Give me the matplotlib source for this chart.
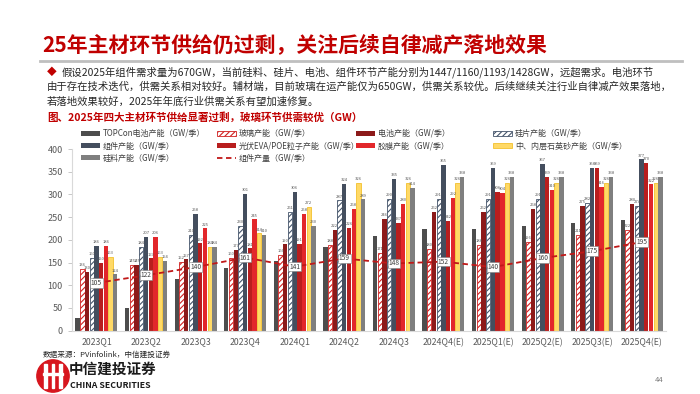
import matplotlib
matplotlib.use("Agg")
import matplotlib.pyplot as plt
import numpy as np
from matplotlib.patches import Circle, Rectangle
from matplotlib.lines import Line2D

plt.rcParams['font.family'] = ['Noto Sans CJK SC', 'DejaVu Sans']
plt.rcParams['hatch.linewidth'] = 0.8

quarters = ["2023Q1", "2023Q2", "2023Q3", "2023Q4", "2024Q1", "2024Q2", "2024Q3",
            "2024Q4(E)", "2025Q1(E)", "2025Q2(E)", "2025Q3(E)", "2025Q4(E)"]

topcon = [27, 50, 113, 139, 154, 184, 208, 223, 223, 231, 238, 243]
glass = [136, 145, 152, 160, 166, 188, 171, 180, 188, 196, 211, 222]
cell = [130, 145, 157, 177, 190, 222, 246, 262, 262, 268, 275, 280]
wafer = [160, 184, 210, 230, 261, 287, 290, 291, 291, 291, 282, 274]
module = [186, 207, 258, 301, 306, 324, 335, 365, 359, 367, 358, 377]
eva = [150, 159, 192, 181, 191, 226, 237, 242, 306, 339, 359, 370]
film = [186, 206, 225, 245, 258, 268, 280, 292, 304, 310, 316, 322]
quartz = [163, 163, 184, 214, 272, 326, 326, 326, 326, 326, 326, 326]
poly = [124, 154, 184, 210, 230, 289, 314, 338, 338, 338, 338, 338]
module_output = [105, 122, 140, 161, 141, 159, 148, 152, 140, 160, 175, 195]

fig = plt.figure(figsize=(7.0, 3.94), dpi=100)

# Header
fig.text(0.06, 1 - 45/394, "25年主材环节供给仍过剩，关注后续自律减产落地效果",
         fontsize=15, fontweight='bold', color='#c00000', va='center', ha='left')
fig.add_artist(Line2D([40/700, 682/700], [1 - 61/394, 1 - 61/394], color='#bfbfbf', lw=2))
fig.text(47/700, 1 - 72/394, "◆", fontsize=7, color='#c00000', va='center', ha='left')
lines = ["假设2025年组件需求量为670GW，当前硅料、硅片、电池、组件环节产能分别为1447/1160/1193/1428GW，远超需求。电池环节",
         "由于存在技术迭代，供需关系相对较好。辅材端，目前玻璃在运产能仅为650GW，供需关系较优。后续继续关注行业自律减产效果落地，",
         "若落地效果较好，2025年年底行业供需关系有望加速修复。"]
for i, ln in enumerate(lines):
    fig.text(62/700 if i == 0 else 47/700, 1 - (72 + i*14.8)/394, ln, fontsize=7.45,
             color='#262626', va='center', ha='left')
fig.text(47/700, 1 - 117/394, "图、2025年四大主材环节供给显著过剩，玻璃环节供需较优（GW）",
         fontsize=7.6, fontweight='bold', color='#c00000', va='center', ha='left')

ax = fig.add_axes([71.7/700, 1 - 330.7/394, (666.4 - 71.7)/700, 181.7/394])

series = [
    ("TOPCon电池产能（GW/季）", topcon, dict(color='#4d4d4d'), False),
    ("玻璃产能（GW/季）", glass, dict(facecolor='white', edgecolor='#d02020', hatch='//////', linewidth=0.6), True),
    ("电池产能（GW/季）", cell, dict(color='#8c1a1a'), True),
    ("硅片产能（GW/季）", wafer, dict(facecolor='white', edgecolor='#44546a', hatch='//////', linewidth=0.6), True),
    ("组件产能（GW/季）", module, dict(color='#444e5e'), True),
    ("光伏EVA/POE粒子产能（GW/季）", eva, dict(color='#b81e1e'), True),
    ("胶膜产能（GW/季）", film, dict(color='#e2272b'), True),
    ("中、内层石英砂产能（GW/季）", quartz, dict(facecolor='#ffd966', edgecolor='#f2c12e', linewidth=0.6), True),
    ("硅料产能（GW/季）", poly, dict(color='#7f7f7f'), True),
]

x = np.arange(len(quarters))
n = len(series)
w = 0.095
handles = {}
for i, (name, vals, style, lab) in enumerate(series):
    off = (i - (n - 1) / 2) * w
    bars = ax.bar(x + off, vals, width=w * 0.92, label=name, zorder=2, **style)
    handles[name] = bars
    if lab:
        for xi, v in zip(x + off, vals):
            ax.text(xi, v + 4, str(v), fontsize=3.0, color='#595959', ha='center', va='bottom')

ln, = ax.plot(x, module_output, linestyle=(0, (3, 2)), color='#c01818', lw=1.3, zorder=3,
              label="组件产量（GW/季）")
for xi, v in zip(x, module_output):
    ax.text(xi, v, str(v), fontsize=4.8, color='#404040', ha='center', va='center', zorder=4,
            bbox=dict(boxstyle='square,pad=0.12', fc='white', ec='#808080', lw=0.4))

ax.set_xlim(-0.5, len(quarters) - 0.5)
ax.set_ylim(0, 400)
ax.set_yticks(range(0, 401, 50))
ax.set_xticks(x)
ax.set_xticklabels(quarters)
ax.tick_params(axis='x', length=0, labelsize=6.3, colors='#595959', pad=5)
ax.tick_params(axis='y', length=3, labelsize=6.5, colors='#595959', color='#bfbfbf', width=0.6)
for s in ['top', 'right']:
    ax.spines[s].set_visible(False)
ax.spines['left'].set_color('#d9d9d9')
ax.spines['bottom'].set_color('#d9d9d9')
ax.spines['left'].set_linewidth(0.8)
ax.spines['bottom'].set_linewidth(0.8)

columns = [
    (81, ["TOPCon电池产能（GW/季）", "组件产能（GW/季）", "硅料产能（GW/季）"]),
    (217, ["玻璃产能（GW/季）", "光伏EVA/POE粒子产能（GW/季）", None]),
    (356, ["电池产能（GW/季）", "胶膜产能（GW/季）"]),
    (493, ["硅片产能（GW/季）", "中、内层石英砂产能（GW/季）"]),
]
for xpos, names in columns:
    hs, ls = [], []
    for o in names:
        if o is None:
            hs.append(ln); ls.append("组件产量（GW/季）")
        else:
            hs.append(handles[o]); ls.append(o)
    fig.legend(hs, ls, loc='upper left', bbox_to_anchor=(xpos/700, 1 - 129/394),
               frameon=False, fontsize=5.8, handlelength=2.3, handleheight=0.55,
               labelspacing=0.42, handletextpad=0.4, labelcolor='#404040',
               borderpad=0, borderaxespad=0)

# Footer
fig.text(43/700, 1 - 355/394, "数据来源：PVinfolink，中信建投证券", fontsize=5.5,
         style='italic', color='#262626', va='center', ha='left')
lax = fig.add_axes([36/700, 1 - 393/394, 34/700, 34/394])
lax.set_xlim(-1, 1); lax.set_ylim(-1, 1); lax.set_aspect('equal'); lax.axis('off')
lax.add_patch(Circle((0, 0), 0.95, color='#d7161e'))
for xx in (-0.45, 0.0, 0.45):
    lax.add_patch(Rectangle((xx - 0.08, -0.7), 0.16, 1.4, color='white'))
lax.add_patch(Rectangle((-0.6, 0.05), 1.2, 0.14, color='white'))
fig.text(69/700, 1 - 369/394, "中信建投证券", fontsize=10.5, fontweight='bold',
         color='#1a1a1a', va='center', ha='left')
fig.text(70/700, 1 - 386/394, "CHINA SECURITIES", fontsize=6.3, fontweight='bold',
         color='#1a1a1a', va='center', ha='left')
fig.text(655/700, 1 - 380/394, "44", fontsize=5.5, color='#7f7f7f', va='center', ha='left')

fig.savefig("out.png", dpi=100)
